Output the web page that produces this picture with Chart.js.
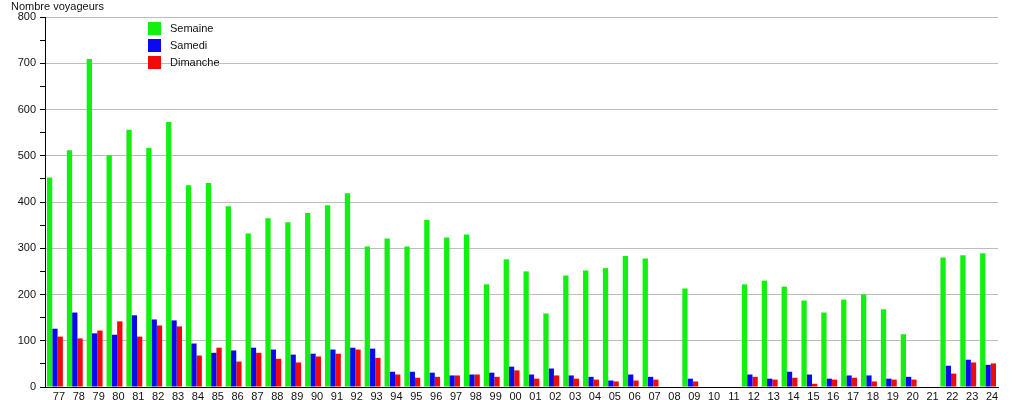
<!DOCTYPE html>
<html>
<head>
<meta charset="utf-8">
<script src="https://cdn.jsdelivr.net/npm/chart.js@4/dist/chart.umd.min.js"></script>
<style>
    body { margin: 0; background: #fff; }
    canvas { display: block; }
</style>
</head>
<body>
<canvas id="chart" width="1015" height="400"></canvas>
<script>
/** Voyageurs par annee - semaine, samedi, dimanche. */

const years = ['77', '78', '79', '80', '81', '82', '83', '84', '85', '86', '87', '88', '89', '90', '91', '92',
    '93', '94', '95', '96', '97', '98', '99', '00', '01', '02', '03', '04', '05', '06', '07', '08',
    '09', '10', '11', '12', '13', '14', '15', '16', '17', '18', '19', '20', '21', '22', '23', '24'];

const semaine = [453, 512, 709, 501, 556, 517, 573, 436, 441, 391, 332, 365, 356, 376, 393, 419,
    304, 321, 304, 361, 323, 330, 222, 276, 250, 159, 241, 252, 257, 283, 278, 0,
    213, 0, 0, 222, 230, 217, 187, 161, 189, 200, 168, 114, 0, 280, 285, 289];

const samedi = [126, 161, 116, 113, 155, 146, 144, 94, 74, 79, 85, 81, 70, 72, 81, 85,
    83, 33, 33, 31, 25, 27, 31, 44, 27, 40, 25, 22, 14, 27, 22, 0,
    18, 0, 0, 27, 18, 33, 27, 18, 25, 25, 18, 22, 0, 46, 59, 48];

const dimanche = [109, 105, 122, 142, 109, 133, 131, 68, 85, 55, 74, 61, 53, 66, 72, 81,
    63, 27, 20, 22, 25, 27, 22, 36, 18, 25, 18, 16, 12, 14, 16, 0,
    12, 0, 0, 22, 16, 20, 7, 16, 20, 12, 16, 16, 0, 29, 53, 51];

const yTicks = [0, 100, 200, 300, 400, 500, 600, 700, 800];

const FONT = 'Liberation Sans, Arial, sans-serif';

/**
 * Draws the unit label and the legend inside the plot area.
 */
const decorPlugin = {
    id: 'decor',
    afterDraw(chart) {
        const ctx = chart.ctx;
        const area = chart.chartArea;
        ctx.save();
        ctx.font = '11px ' + FONT;
        ctx.fillStyle = '#111';
        ctx.textBaseline = 'middle';
        ctx.textAlign = 'left';
        ctx.fillText('Nombre voyageurs', area.left - 34, area.top - 10);

        chart.data.datasets.forEach((ds, i) => {
            const x = area.left + 103;
            const y = area.top + 5 + i * 17;
            ctx.fillStyle = ds.backgroundColor;
            ctx.fillRect(x, y, 13, 13);
            ctx.fillStyle = '#111';
            ctx.fillText(ds.label, x + 22, y + 7);
        });
        ctx.restore();
    }
};

function createChart(elementId) {
    const context = document.getElementById(elementId);
    const barStyle = { barPercentage: 1, categoryPercentage: 0.8, borderWidth: 0 };
    return new Chart(context, {
        type: 'bar',
        data: {
            labels: years,
            datasets: [
                { label: 'Semaine', data: semaine, backgroundColor: '#12f012', ...barStyle },
                { label: 'Samedi', data: samedi, backgroundColor: '#0a0af0', ...barStyle },
                { label: 'Dimanche', data: dimanche, backgroundColor: '#f20a0a', ...barStyle }
            ]
        },
        options: {
            responsive: false,
            animation: false,
            layout: { padding: { top: 17, right: 17, left: 0, bottom: 0 } },
            plugins: {
                legend: { display: false },
                tooltip: { enabled: false }
            },
            scales: {
                x: {
                    grid: { display: false, drawTicks: false, tickLength: 0 },
                    border: { display: true, color: '#000', width: 1 },
                    ticks: {
                        autoSkip: false,
                        maxRotation: 0,
                        labelOffset: 4,
                        padding: 3,
                        color: '#111',
                        font: { family: FONT, size: 11 }
                    },
                    afterFit: scale => { scale.height = 13; }
                },
                y: {
                    min: 0,
                    max: 800,
                    border: { display: true, color: '#000', width: 1 },
                    grid: {
                        color: c => (c.tick && c.tick.value % 100 === 0) ? '#bcbcbc' : 'rgba(0,0,0,0)',
                        tickColor: '#000',
                        tickLength: 5,
                        lineWidth: 1
                    },
                    ticks: {
                        stepSize: 50,
                        padding: 4,
                        color: '#111',
                        font: { family: FONT, size: 11 },
                        callback: v => yTicks.includes(v) ? v : ''
                    },
                    afterFit: scale => { scale.width = 45; }
                }
            }
        },
        plugins: [decorPlugin]
    });
}

createChart('chart');
</script>
</body>
</html>
